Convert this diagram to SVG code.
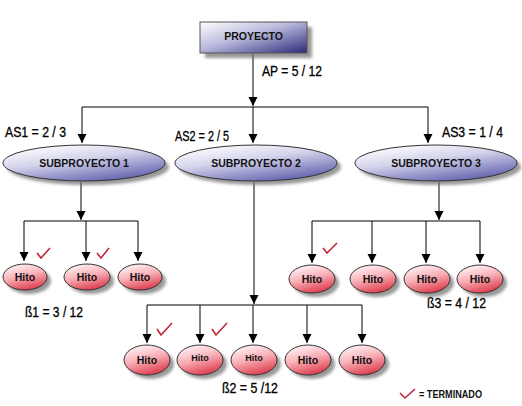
<svg xmlns="http://www.w3.org/2000/svg" width="522" height="406" viewBox="0 0 522 406">
<defs>
<linearGradient id="gRect" x1="0" y1="0" x2="1" y2="1">
<stop offset="0" stop-color="#ffffff"/><stop offset="0.45" stop-color="#b8b8dc"/><stop offset="1" stop-color="#2a2a78"/>
</linearGradient>
<linearGradient id="gSub" x1="0.2" y1="0" x2="0.8" y2="1">
<stop offset="0" stop-color="#ffffff"/><stop offset="0.4" stop-color="#d4d4ec"/><stop offset="1" stop-color="#5858a8"/>
</linearGradient>
<linearGradient id="gHito" x1="0.3" y1="0" x2="0.7" y2="1">
<stop offset="0" stop-color="#fff4f6"/><stop offset="0.45" stop-color="#f8b0b8"/><stop offset="1" stop-color="#dc3444"/>
</linearGradient>
<filter id="blur" x="-20%" y="-20%" width="140%" height="140%"><feGaussianBlur stdDeviation="1.5"/></filter>
<marker id="arr" markerUnits="userSpaceOnUse" markerWidth="10" markerHeight="10" refX="9" refY="4.5" orient="auto">
<path d="M0,0 L9,4.5 L0,9 z" fill="#000"/>
</marker>
</defs>
<style>
.sh{fill:#777;opacity:0.75;filter:url(#blur)}
.sub{fill:url(#gSub);stroke:#333;stroke-width:1}
.hito{fill:url(#gHito);stroke:#333;stroke-width:1}
.lbl{font-family:"Liberation Sans",Arial,sans-serif;font-size:14px;fill:#000;stroke:#000;stroke-width:0.3}
.bt{font-family:"Liberation Sans",Arial,sans-serif;font-weight:bold;fill:#111;text-anchor:middle}
.con{fill:none;stroke:#000;stroke-width:1}
.chk{fill:none;stroke:#c02838;stroke-width:1.6;stroke-linejoin:miter}
</style>
<rect width="522" height="406" fill="#fff"/>

<g id="connectors">
<path class="con" d="M253,53 V106" marker-end="url(#arr)"/>
<path class="con" d="M82,107 H428"/>
<path class="con" d="M82,107 V143" marker-end="url(#arr)"/>
<path class="con" d="M253,107 V143" marker-end="url(#arr)"/>
<path class="con" d="M428,107 V143" marker-end="url(#arr)"/>
<path class="con" d="M81,182 V220" marker-end="url(#arr)"/>
<path class="con" d="M24,221 H138"/>
<path class="con" d="M24,221 V261" marker-end="url(#arr)"/>
<path class="con" d="M86,221 V261" marker-end="url(#arr)"/>
<path class="con" d="M138,221 V261" marker-end="url(#arr)"/>
<path class="con" d="M439,182 V220" marker-end="url(#arr)"/>
<path class="con" d="M312,221 H480"/>
<path class="con" d="M312,221 V263" marker-end="url(#arr)"/>
<path class="con" d="M372,221 V263" marker-end="url(#arr)"/>
<path class="con" d="M426,221 V263" marker-end="url(#arr)"/>
<path class="con" d="M480,221 V263" marker-end="url(#arr)"/>
<path class="con" d="M254,182 V304" marker-end="url(#arr)"/>
<path class="con" d="M147,305 H362"/>
<path class="con" d="M147,305 V343" marker-end="url(#arr)"/>
<path class="con" d="M200,305 V343" marker-end="url(#arr)"/>
<path class="con" d="M253,305 V343" marker-end="url(#arr)"/>
<path class="con" d="M307,305 V343" marker-end="url(#arr)"/>
<path class="con" d="M362,305 V343" marker-end="url(#arr)"/>
</g>

<g id="proyecto">
<rect class="sh" x="205" y="27" width="107" height="31"/>
<rect x="200" y="22" width="107" height="31" fill="url(#gRect)" stroke="#555" stroke-width="1"/>
<text class="bt" x="253.5" y="40" font-size="10.5">PROYECTO</text>
</g>

<g id="labels">
<text class="lbl" x="262" y="76" textLength="60" lengthAdjust="spacingAndGlyphs">AP = 5 / 12</text>
<text class="lbl" x="5" y="137" textLength="61" lengthAdjust="spacingAndGlyphs">AS1 = 2 / 3</text>
<text class="lbl" x="175" y="141" textLength="54" lengthAdjust="spacingAndGlyphs">AS2 = 2 / 5</text>
<text class="lbl" x="442" y="137" textLength="61" lengthAdjust="spacingAndGlyphs">AS3 = 1 / 4</text>
<text class="lbl" x="25" y="317" textLength="58" lengthAdjust="spacingAndGlyphs">ß1 = 3 / 12</text>
<text class="lbl" x="427" y="308" textLength="59" lengthAdjust="spacingAndGlyphs">ß3 = 4 / 12</text>
<text class="lbl" x="222" y="393" textLength="56" lengthAdjust="spacingAndGlyphs">ß2 = 5 /12</text>
</g>

<g id="sub1">
<ellipse class="sh" cx="88" cy="167" rx="81" ry="18"/>
<ellipse class="sub" cx="84" cy="163" rx="81" ry="18"/>
<text class="bt" x="84" y="167" font-size="10.5">SUBPROYECTO 1</text>
</g>
<g id="sub2">
<ellipse class="sh" cx="260" cy="167" rx="81" ry="18"/>
<ellipse class="sub" cx="256" cy="163" rx="81" ry="18"/>
<text class="bt" x="256" y="167" font-size="10.5">SUBPROYECTO 2</text>
</g>
<g id="sub3">
<ellipse class="sh" cx="440" cy="167" rx="81" ry="18"/>
<ellipse class="sub" cx="436" cy="163" rx="81" ry="18"/>
<text class="bt" x="436" y="167" font-size="10.5">SUBPROYECTO 3</text>
</g>

<g id="h1a"><ellipse class="sh" cx="29" cy="281" rx="22" ry="13"/><ellipse class="hito" cx="25" cy="277" rx="22" ry="13"/><text class="bt" x="25" y="281" font-size="10.5">Hito</text></g>
<g id="h1b"><ellipse class="sh" cx="91" cy="281" rx="23" ry="13"/><ellipse class="hito" cx="87" cy="277" rx="23" ry="13"/><text class="bt" x="87" y="281" font-size="10.5">Hito</text></g>
<g id="h1c"><ellipse class="sh" cx="144" cy="281" rx="22" ry="13"/><ellipse class="hito" cx="140" cy="277" rx="22" ry="13"/><text class="bt" x="140" y="281" font-size="10.5">Hito</text></g>

<g id="h3a"><ellipse class="sh" cx="316" cy="283" rx="23" ry="14"/><ellipse class="hito" cx="312" cy="279" rx="23" ry="14"/><text class="bt" x="312" y="283" font-size="10.5">Hito</text></g>
<g id="h3b"><ellipse class="sh" cx="377" cy="283" rx="23" ry="14"/><ellipse class="hito" cx="373" cy="279" rx="23" ry="14"/><text class="bt" x="373" y="283" font-size="10.5">Hito</text></g>
<g id="h3c"><ellipse class="sh" cx="431" cy="283" rx="23" ry="14"/><ellipse class="hito" cx="427" cy="279" rx="23" ry="14"/><text class="bt" x="427" y="283" font-size="10.5">Hito</text></g>
<g id="h3d"><ellipse class="sh" cx="484" cy="283" rx="23" ry="14"/><ellipse class="hito" cx="480" cy="279" rx="23" ry="14"/><text class="bt" x="480" y="283" font-size="10.5">Hito</text></g>

<g id="h2a"><ellipse class="sh" cx="151" cy="364" rx="23" ry="15"/><ellipse class="hito" cx="147" cy="360" rx="23" ry="15"/><text class="bt" x="147" y="364" font-size="10.5">Hito</text></g>
<g id="h2b"><ellipse class="sh" cx="204" cy="364" rx="23" ry="15"/><ellipse class="hito" cx="200" cy="360" rx="23" ry="15"/><text class="bt" x="200" y="361" font-size="9">Hito</text></g>
<g id="h2c"><ellipse class="sh" cx="258" cy="364" rx="23" ry="15"/><ellipse class="hito" cx="254" cy="360" rx="23" ry="15"/><text class="bt" x="254" y="361" font-size="9">Hito</text></g>
<g id="h2d"><ellipse class="sh" cx="312" cy="364" rx="23" ry="15"/><ellipse class="hito" cx="308" cy="360" rx="23" ry="15"/><text class="bt" x="308" y="364" font-size="10.5">Hito</text></g>
<g id="h2e"><ellipse class="sh" cx="366" cy="364" rx="23" ry="15"/><ellipse class="hito" cx="362" cy="360" rx="23" ry="15"/><text class="bt" x="362" y="364" font-size="10.5">Hito</text></g>

<g id="checks">
<path class="chk" d="M37,253 L41,258 L50,248"/>
<path class="chk" d="M97,253 L101,258 L109,248"/>
<path class="chk" d="M323,248 L327,253 L337,243"/>
<path class="chk" d="M157,329 L161,335 L172,323"/>
<path class="chk" d="M212,329 L216,335 L227,323"/>
</g>

<g id="legend">
<path class="chk" d="M400,393 L405,398 L415,389"/>
<text x="419" y="398" font-family="'Liberation Sans',Arial,sans-serif" font-weight="bold" font-size="10" fill="#111" textLength="63" lengthAdjust="spacingAndGlyphs">= TERMINADO</text>
</g>
</svg>
